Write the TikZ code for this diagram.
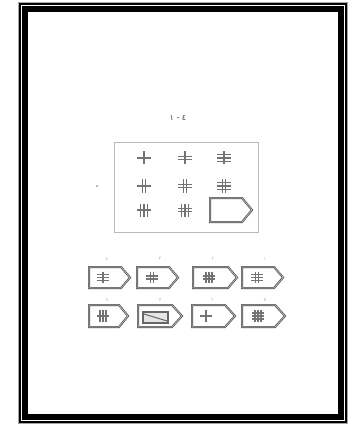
\documentclass[tikz,border=0pt]{standalone}
\usepackage{fontspec}
\newfontfamily\arabicfont[Script=Arabic]{DejaVu Sans}
\TeXXeTstate=1
\tikzset{
  tagline/.style={draw=black!70, line width=0.7pt, double=gray!45, double distance=0.6pt, line join=miter},
  glyphline/.style={draw=black!55, line width=1.2pt},
  labeltext/.style={text=gray!55, font=\arabicfont\fontsize{5}{5}\selectfont, inner sep=0pt},
  boxline/.style={draw=gray!55, line width=0.8pt},
}
% tag shape: left, top, right, bottom, pointer depth
\newcommand\tagshape[5]{\draw[tagline] (#1,#2) -- ({#3-#5},#2) -- (#3,{(#2+#4)/2}) -- ({#3-#5},#4) -- (#1,#4) -- cycle;}
% glyph: x, y, n horizontals, n verticals, scale
\newcommand\glyph[5]{%
  \foreach \i in {1,...,#3}{\draw[glyphline] ({#1-7*#5},{#2+(\i-(#3+1)/2)*3.6*#5}) -- ({#1+7*#5},{#2+(\i-(#3+1)/2)*3.6*#5});}%
  \foreach \j in {1,...,#4}{\draw[glyphline] ({#1+(\j-(#4+1)/2)*3.6*#5},{#2-6.5*#5}) -- ({#1+(\j-(#4+1)/2)*3.6*#5},{#2+6.5*#5});}%
}
\begin{document}
\begin{tikzpicture}[x=1pt,y=-1pt]
\useasboundingbox (0,0) rectangle (352,438);
\fill[white] (0,0) rectangle (352,438);
% frame
\draw[gray!70, line width=1pt] (18.5,2.5) rectangle (347.5,423.5);
\draw[black, line width=2pt] (20,4) rectangle (346,422);
\draw[black, line width=6pt] (25,9.5) rectangle (341,416.5);
% title
\node[font=\arabicfont\fontsize{8}{8}\selectfont, text=black!75, inner sep=0pt] (title) at (178,118) {\beginR ٤ - ١\endR};
% question box
\draw[boxline] (114,142) rectangle (258,232);
\node[circle, fill=gray!70, inner sep=0pt, minimum size=2.2pt] (mark) at (97,186) {};
% grid glyphs
\glyph{144}{158}{1}{1}{1}
\glyph{185}{158}{2}{1}{1}
\glyph{224}{158}{3}{1}{1}
\glyph{144}{186}{1}{2}{1}
\glyph{185}{186}{2}{2}{1}
\glyph{224}{186}{3}{2}{1}
\glyph{144}{210}{1}{3}{1}
\glyph{185}{210}{2}{3}{1}
\tagshape{210}{198}{252}{222}{10}
% options row 1
\tagshape{89}{267}{130}{288}{9}
\tagshape{137}{267}{178}{288}{9}
\tagshape{193}{267}{237}{288}{9}
\tagshape{242}{267}{283}{288}{9}
\glyph{103}{277.5}{3}{1}{0.85}
\glyph{152}{277.5}{2}{2}{0.85}
\glyph{209}{277.5}{2}{3}{0.85}
\glyph{257}{277.5}{3}{2}{0.85}
% options row 2
\tagshape{89}{305}{128}{327}{9}
\tagshape{138}{305}{182}{327}{10}
\tagshape{192}{305}{235}{327}{10}
\tagshape{242}{305}{285}{327}{10}
\glyph{103}{316}{1}{3}{0.85}
\draw[draw=black!60, line width=1.2pt, fill=gray!20] (143,312) rectangle (168,323);
\draw[black!60, line width=1pt] (144,314) -- (167,321);
\glyph{206}{316}{1}{1}{0.85}
\glyph{258}{316}{3}{3}{0.85}
% option labels
\node[labeltext] (l1) at (107,259) {٤};
\node[labeltext] (l2) at (160,259) {٣};
\node[labeltext] (l3) at (213,259) {٢};
\node[labeltext] (l4) at (265,259) {١};
\node[labeltext] (l5) at (107,300) {٨};
\node[labeltext] (l6) at (160,300) {٧};
\node[labeltext] (l7) at (212,300) {٦};
\node[labeltext] (l8) at (265,300) {٥};
\end{tikzpicture}
\end{document}
